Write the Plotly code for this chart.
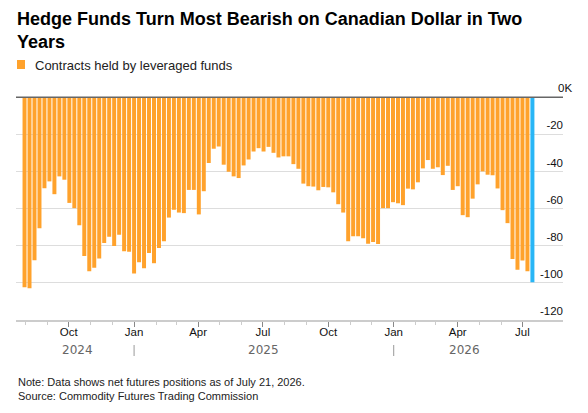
import pandas as pd
import plotly.graph_objects as go

# Weekly CFTC net positions (thousands of contracts), leveraged funds, CAD futures
# Weeks plotted by week start (last week is the one reported as of July 21, 2026)
week_start = pd.date_range(start="2024-07-31", periods=103, freq="7D")
net_contracts = [
    -102.3, -102.9, -87.8, -70.5, -49.0, -45.3, -52.2, -42.6, -44.4, -56.9,
    -59.7, -68.9, -85.5, -93.7, -91.9, -86.9, -78.5, -75.1, -80.1, -74.1,
    -83.0, -83.2, -95.0, -88.9, -92.1, -83.9, -89.4, -81.2, -77.5, -64.8,
    -60.6, -62.1, -62.4, -49.9, -49.9, -63.1, -50.6, -35.4, -27.7, -26.5,
    -36.3, -40.1, -42.6, -43.5, -36.7, -33.5, -29.2, -27.4, -29.2, -26.7,
    -29.9, -32.4, -31.8, -31.8, -36.0, -38.5, -46.5, -47.9, -48.1, -50.1,
    -48.3, -48.5, -51.2, -57.6, -62.1, -77.6, -74.8, -74.8, -76.0, -78.9,
    -78.0, -79.1, -59.7, -59.7, -56.5, -57.1, -58.1, -49.2, -49.6, -45.8,
    -38.3, -33.8, -38.5, -37.7, -41.9, -36.9, -49.9, -47.9, -63.5, -64.6,
    -54.6, -46.9, -39.9, -41.7, -42.0, -49.1, -60.8, -67.8, -87.1, -92.9,
    -87.9, -93.7, -99.6,
]
y_tickvals = [0, -20, -40, -60, -80, -100, -120]
y_ticktext = ["", "-20", "-40", "-60", "-80", "-100", "-120"]
zero_label = "0K"
year_labels = ["2024", "2025", "2026"]
year_label_dates = ["2024-10-14", "2025-07-02", "2026-04-10"]
year_separators = ["2025-01-01", "2026-01-01"]

ORANGE = "#FFA22C"
BLUE = "#29B6F6"
FONT = "Liberation Sans, Arial, sans-serif"
bar_width_ms = 7 * 24 * 3600 * 1000 * 0.8

fig = go.Figure()
fig.add_trace(go.Bar(
    x=week_start[:-1], y=net_contracts[:-1], marker_color=ORANGE,
    marker_line_width=0, width=bar_width_ms, name="Contracts held by leveraged funds",
    showlegend=False,
))
fig.add_trace(go.Bar(
    x=week_start[-1:], y=net_contracts[-1:], marker_color=BLUE,
    marker_line_width=0, width=bar_width_ms, showlegend=False,
))

TOP = 81  # top of plotting area in pixels (range extends a little above zero)

fig.update_layout(
    width=588, height=413,
    margin=dict(l=16, r=25, t=TOP, b=93),
    paper_bgcolor="white", plot_bgcolor="white",
    barmode="overlay",
    font=dict(family=FONT, size=12, color="#222"),
    xaxis=dict(
        type="date",
        range=["2024-07-19", "2026-08-27"],
        tickmode="linear", tick0="2024-01-01", dtick="M3", tickformat="%b",
        ticks="outside", ticklen=5, tickcolor="#888", tickwidth=1,
        minor=dict(dtick="M1", tick0="2024-01-01", ticks="outside", ticklen=3,
                   tickcolor="#ccc", tickwidth=1),
        showline=True, linecolor="#ccc", linewidth=1.5,
        showgrid=False, zeroline=False,
        ticklabelstandoff=-5,
        tickfont=dict(size=11.5, color="#111"),
    ),
    yaxis=dict(
        side="right", range=[-120, 8.8],
        tickmode="array", tickvals=y_tickvals, ticktext=y_ticktext,
        ticks="", ticklabelposition="inside", ticklabelshift=-9,
        ticklabelstandoff=-3,
        showgrid=True, gridcolor="#dddddd", gridwidth=1,
        zeroline=False, showline=False,
        tickfont=dict(size=11.5, color="#111"),
    ),
)

# title
fig.add_annotation(
    text="<b>Hedge Funds Turn Most Bearish on Canadian Dollar in Two<br>Years</b>",
    xref="paper", yref="paper", x=0, y=1, xshift=-1, yshift=TOP - 7,
    xanchor="left", yanchor="top", align="left", showarrow=False,
    font=dict(family=FONT, size=18, color="#000"),
)

# zero line and its label (unit "K" hangs past the label column)
fig.add_shape(type="line", xref="paper", yref="y", x0=0, x1=1, y0=0, y1=0,
              line=dict(color="#666", width=1.5))
fig.add_annotation(text=zero_label, xref="paper", yref="y", x=1, y=0,
                   xshift=-7, yshift=9, xanchor="left", yanchor="middle",
                   showarrow=False, font=dict(size=11.5, color="#111"))

# legend: square + label
fig.add_shape(type="rect", xref="paper", yref="paper",
              xsizemode="pixel", ysizemode="pixel", xanchor=0, yanchor=1,
              x0=1, x1=9, y0=TOP - 69, y1=TOP - 60,
              fillcolor=ORANGE, line=dict(width=0))
fig.add_annotation(text="Contracts held by leveraged funds", xref="paper", yref="paper",
                   x=0, y=1, xshift=17, yshift=TOP - 65, xanchor="left", yanchor="middle",
                   showarrow=False, font=dict(size=13, color="#222"))

# year labels and separators under month labels
for lab, d in zip(year_labels, year_label_dates):
    fig.add_annotation(text=lab, xref="x", yref="paper", x=d, y=0, yshift=-30,
                       xanchor="center", yanchor="middle", showarrow=False,
                       font=dict(family="DejaVu Sans", size=12, color="#666"))
for d in year_separators:
    fig.add_shape(type="line", xref="x", yref="paper", ysizemode="pixel", yanchor=0,
                  x0=d, x1=d, y0=-25, y1=-36, line=dict(color="#999", width=1))

# footnote
fig.add_annotation(
    text="Note: Data shows net futures positions as of July 21, 2026.<br>Source: Commodity Futures Trading Commission",
    xref="paper", yref="paper", x=0, y=0, yshift=-54, xanchor="left", yanchor="top",
    align="left", showarrow=False, font=dict(size=11, color="#222"),
)

fig.write_html("out.html")
